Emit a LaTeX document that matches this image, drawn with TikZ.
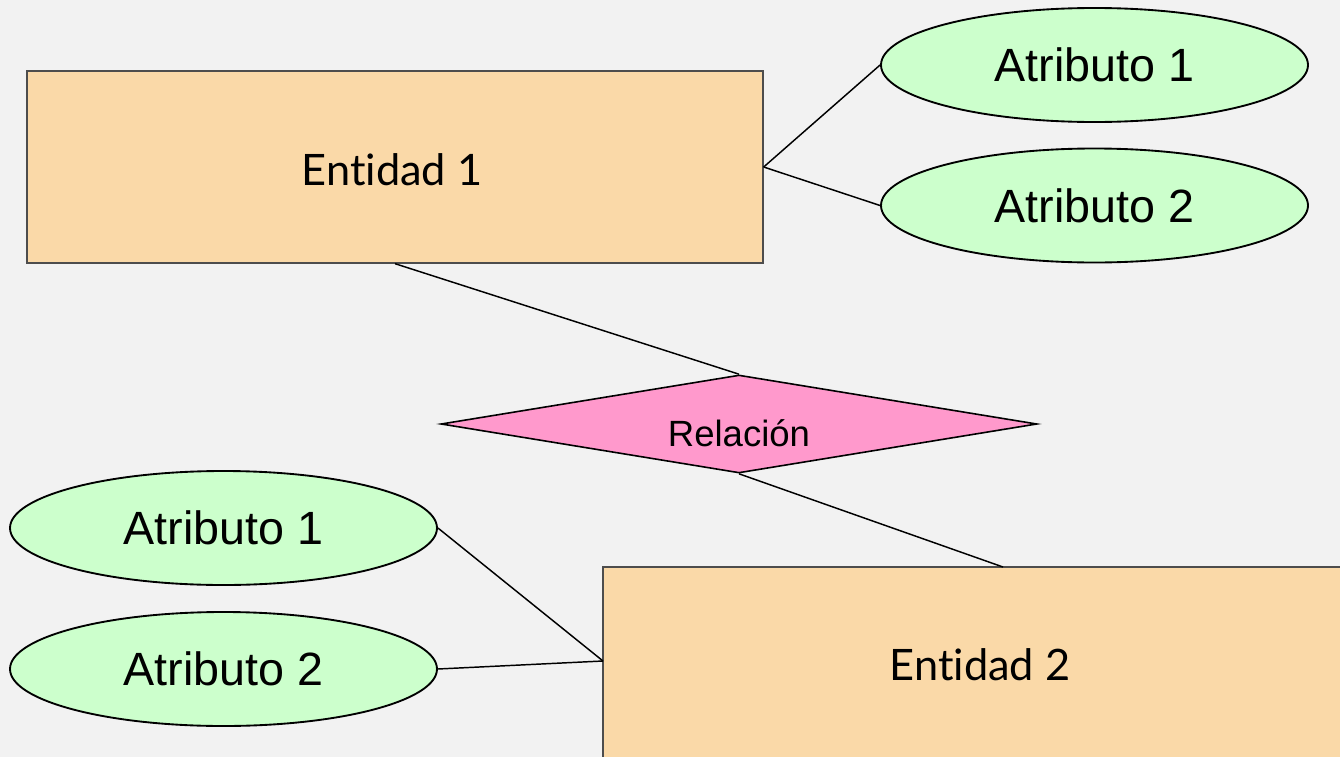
\documentclass[tikz,border=0pt]{standalone}
\usepackage{fontspec}
\setmainfont{Liberation Sans}
\newfontfamily\entfont[Ligatures=NoCommon]{Lato}
\usetikzlibrary{shapes.geometric}
\definecolor{bgc}{HTML}{F2F2F2}
\definecolor{entc}{HTML}{FAD9A8}
\definecolor{attc}{HTML}{CCFFCC}
\definecolor{relc}{HTML}{FF99CC}
\definecolor{bordc}{HTML}{4D4D4D}
\begin{document}
\begin{tikzpicture}[x=0.75pt,y=-0.75pt,
  entity/.style={draw=bordc,line width=1pt,fill=entc,inner sep=0pt},
  enttext/.style={font=\entfont\fontsize{32.5}{38}\selectfont,inner sep=0pt},
  attr/.style={ellipse,draw=black,line width=1.4pt,fill=attc,inner sep=0pt,
    minimum width=320.25pt,minimum height=85.5pt,font=\fontsize{35}{40}\selectfont},
  rel/.style={diamond,draw=black,line width=1.2pt,fill=relc,inner sep=0pt,
    aspect=6.1,minimum width=447pt,minimum height=73.5pt},
  reltext/.style={font=\fontsize{27.4}{32}\selectfont,inner sep=0pt},
  conn/.style={draw=black,line width=1.1pt}]
\fill[bgc] (0,0) rectangle (1340,757);
\useasboundingbox (0,0) rectangle (1340,757);
% entities
\node[entity,minimum width=552pt,minimum height=144pt] (e1) at (395,167) {};
\node[enttext] (e1t) at (392,170) {Entidad 1};
\draw[entity] (603,567) rectangle (1345,762);
\coordinate (e2top) at (1003,567);
\coordinate (e2left) at (603,661);
\node[enttext] (e2t) at (980,665) {Entidad 2};
% attributes
\node[attr] (a1) at (1094.5,65) {Atributo 1};
\node[attr] (a2) at (1094.5,205.5) {Atributo 2};
\node[attr] (b1) at (223.5,528) {Atributo 1};
\node[attr] (b2) at (223.5,669) {Atributo 2};
% relation
\node[rel] (r) at (739,424) {};
\node[reltext] (rt) at (739,433) {Relación};
% connectors
\draw[conn] (e1.east) -- (a1.west);
\draw[conn] (e1.east) -- (a2.west);
\draw[conn] (e1.south) -- (r.north);
\draw[conn] (r.south) -- (e2top);
\draw[conn] (b1.east) -- (e2left);
\draw[conn] (b2.east) -- (e2left);
\end{tikzpicture}
\end{document}
